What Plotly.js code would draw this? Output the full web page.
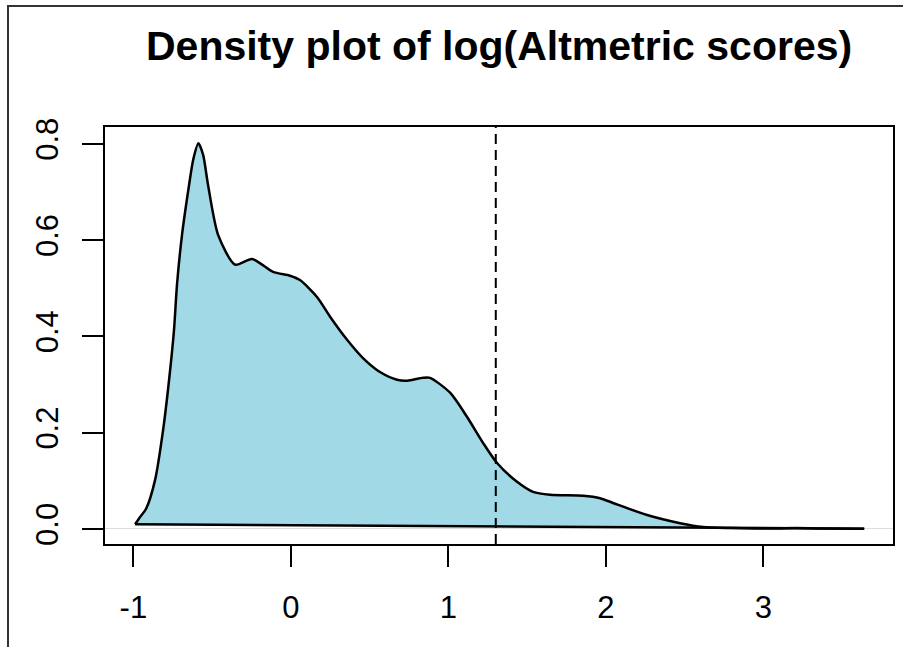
<!DOCTYPE html>
<html>
<head>
<meta charset="utf-8">
<script src="https://cdn.plot.ly/plotly-3.0.1.min.js"></script>
<style>
  html, body { margin: 0; padding: 0; background: #fff; }
  #wrap { position: relative; width: 903px; height: 647px; overflow: hidden; }
  #chart { position: absolute; left: 0; top: 0; width: 903px; height: 647px; }
  #frame { position: absolute; left: 7px; top: 5px; width: 900px; height: 650px;
           border-left: 2px solid #333; border-top: 2px solid #333; pointer-events: none; }
</style>
</head>
<body>
<div id="wrap">
  <div id="chart"></div>
  <div id="frame"></div>
</div>
<script>
// Density of log10(Altmetric scores)
const densityX = [-0.989, -0.957, -0.919, -0.862, -0.811, -0.773, -0.742, -0.723, -0.691, -0.646, -0.620,
  -0.587, -0.557, -0.526, -0.462, -0.354, -0.246, -0.113, -0.005, 0.058, 0.166,
  0.249, 0.357, 0.458, 0.566, 0.674, 0.738, 0.839, 0.884, 1.011, 1.118,
  1.220, 1.309, 1.436, 1.538, 1.646, 1.855, 1.963, 2.046, 2.262, 2.471,
  2.617, 2.789, 2.95, 3.106, 3.2, 3.35, 3.64];
const densityY = [0.010, 0.025, 0.042, 0.102, 0.206, 0.310, 0.413, 0.507, 0.611, 0.715, 0.767,
  0.801, 0.777, 0.715, 0.611, 0.549, 0.561, 0.534, 0.526, 0.517, 0.482,
  0.441, 0.393, 0.355, 0.326, 0.310, 0.308, 0.314, 0.314, 0.283, 0.233,
  0.179, 0.137, 0.098, 0.077, 0.071, 0.069, 0.064, 0.054, 0.029, 0.012,
  0.004, 0.002, 0.0012, 0.0012, 0.0018, 0.0010, 0.0005];
const cutoffX = [Math.log10(20)];
const xTickVals = [-1, 0, 1, 2, 3];
const xTickText = ["-1", "0", "1", "2", "3"];
const yTickVals = [0.0, 0.2, 0.4, 0.6, 0.8];
const yTickText = ["0.0", "0.2", "0.4", "0.6", "0.8"];
const titleText = "Density plot of log(Altmetric scores)";

const FONT = "Liberation Sans, Arial, Helvetica, sans-serif";
const last = densityX.length - 1;

const traces = [{
  type: "scatter",
  mode: "lines",
  x: densityX,
  y: densityY,
  fill: "toself",
  fillcolor: "#A1D9E7",
  line: { color: "#000", width: 2.5, shape: "spline", smoothing: 0.7 },
  hoverinfo: "x+y",
  showlegend: false
}, {
  // polygon closing edge (last point back to first point)
  type: "scatter",
  mode: "lines",
  x: [densityX[last], densityX[0]],
  y: [densityY[last], densityY[0]],
  line: { color: "#000", width: 2.5 },
  hoverinfo: "skip",
  showlegend: false
}];

const layout = {
  width: 903,
  height: 647,
  margin: { l: 105, r: 10, t: 127, b: 103, pad: 0 },
  paper_bgcolor: "#fff",
  plot_bgcolor: "#fff",
  showlegend: false,
  title: {
    text: "<b>" + titleText + "</b>",
    font: { family: FONT, size: 41, color: "#000" },
    x: 0.5527, xref: "container", xanchor: "center",
    y: 1 - 46 / 647, yref: "container", yanchor: "middle"
  },
  xaxis: {
    range: [-1.180, 3.823],
    tickvals: xTickVals,
    ticktext: xTickText,
    ticks: "outside",
    ticklen: 21,
    tickwidth: 2,
    tickcolor: "#000",
    showline: true,
    linecolor: "#000",
    linewidth: 2,
    mirror: true,
    showgrid: false,
    zeroline: false,
    tickfont: { family: FONT, size: 31, color: "#000" },
    ticklabelstandoff: 14
  },
  yaxis: {
    range: [-0.0312, 0.835],
    tickvals: yTickVals,
    ticktext: yTickText,
    tickangle: -90,
    ticks: "outside",
    ticklen: 21,
    tickwidth: 2,
    tickcolor: "#000",
    showline: true,
    linecolor: "#000",
    linewidth: 2,
    mirror: true,
    showgrid: false,
    zeroline: true,
    zerolinecolor: "#dddddd",
    zerolinewidth: 1,
    tickfont: { family: FONT, size: 31, color: "#000" },
    ticklabelstandoff: 12
  },
  shapes: [{
    type: "line",
    xref: "x", yref: "paper",
    x0: cutoffX[0], x1: cutoffX[0], y0: 0, y1: 1,
    line: { color: "#000", width: 2, dash: "10px,6px" }
  }]
};

Plotly.newPlot("chart", traces, layout, { displayModeBar: false, staticPlot: true });
</script>
</body>
</html>
